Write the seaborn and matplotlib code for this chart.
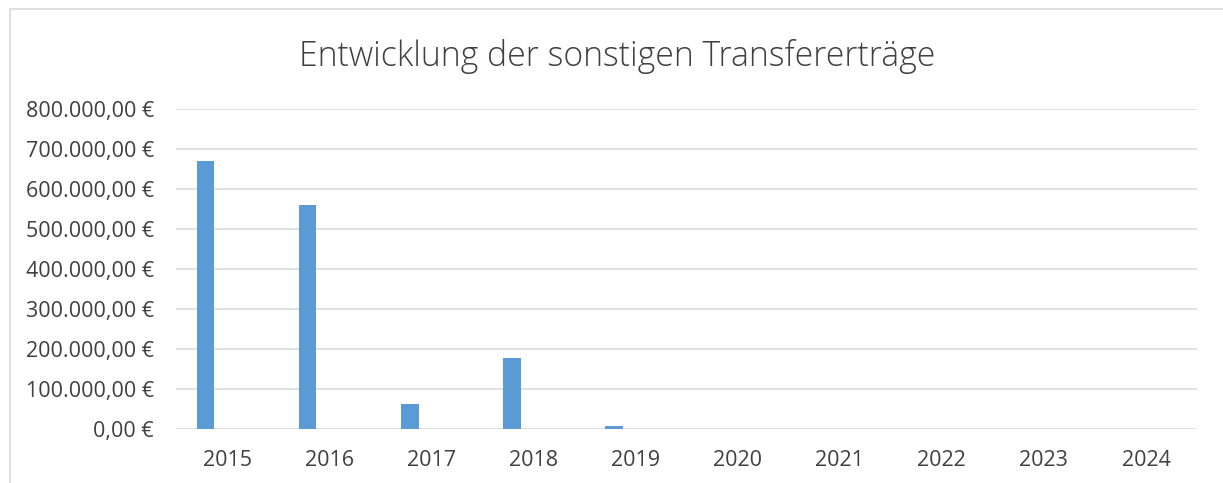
import matplotlib
matplotlib.use("Agg")
import matplotlib.pyplot as plt
import seaborn as sns
import pandas as pd
from matplotlib.patches import Rectangle
from matplotlib.ticker import FuncFormatter

years = ["2015", "2016", "2017", "2018", "2019", "2020", "2021", "2022", "2023", "2024"]
transfer = [670000, 560000, 62500, 177000, 8500, 0, 0, 0, 0, 0]
other = [0, 0, 0, 0, 0, 0, 0, 0, 0, 0]
title = "Entwicklung der sonstigen Transfererträge"
yticks = [0, 100000, 200000, 300000, 400000, 500000, 600000, 700000, 800000]

df = pd.DataFrame({
    "Jahr": years * 2,
    "Wert": transfer + other,
    "Serie": ["A"] * len(years) + ["B"] * len(years),
})

sns.set_theme(style="white")
plt.rcParams["font.family"] = ["Open Sans", "DejaVu Sans"]

fig = plt.figure(figsize=(12.23, 4.83), dpi=100)
ax = fig.add_axes([176 / 1223, 1 - 429 / 483, (1197 - 176) / 1223, (429 - 109) / 483])

sns.barplot(data=df, x="Jahr", y="Wert", hue="Serie", order=years,
            palette={"A": "#5B9BD5", "B": "#ED7D31"}, saturation=1,
            width=0.84, gap=0.59, linewidth=0, legend=False, ax=ax)

ax.set_ylim(0, 800000)
ax.set_yticks(yticks)
ax.yaxis.set_major_formatter(FuncFormatter(
    lambda v, p: f"{v:,.2f}".replace(",", "X").replace(".", ",").replace("X", ".") + " €"))
ax.grid(axis="y", color="#d9d9d9", linewidth=1.1)
ax.set_axisbelow(True)
for s in ax.spines.values():
    s.set_visible(False)
ax.set_xlabel("")
ax.set_ylabel("")
ax.tick_params(axis="both", length=0, labelsize=15.5, colors="#404040")
ax.tick_params(axis="x", pad=15)
ax.tick_params(axis="y", pad=16)

fig.text(617 / 1223, 1 - 57 / 483, title, ha="center", va="center",
         fontsize=24.3, fontweight="light", color="#404040")

fig.add_artist(Rectangle((10 / 1223, -0.1), 1.2, 1 - 9.5 / 483 + 0.1,
                         transform=fig.transFigure, fill=False,
                         edgecolor="#d9d9d9", linewidth=1.2))

fig.savefig("out.png", dpi=100, facecolor="white")
